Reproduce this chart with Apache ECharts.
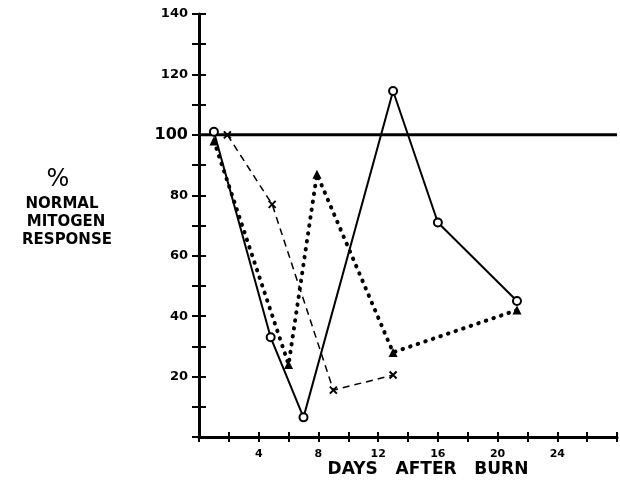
<!DOCTYPE html>
<html><head><meta charset="utf-8">
<script src="https://cdn.jsdelivr.net/npm/echarts@6/dist/echarts.min.js"></script>
<style>html,body{margin:0;padding:0;background:#fff}#c{width:620px;height:484px}</style>
</head><body><div id="c"></div>
<script>
// Days after burn / % normal mitogen response
const circleData = [[1, 101], [4.8, 33], [7, 6.5], [13, 114.5], [16, 71], [21.3, 45]];
const triangleData = [[1, 98], [6, 24], [7.9, 87], [13, 28], [21.3, 42]];
const crossData = [[1.9, 100], [4.9, 77], [9, 15.5], [13, 20.5]];
const normalLevel = 100;
const xTickLabels = [4, 8, 12, 16, 20, 24];
const yTickLabels = [20, 40, 60, 80, 100, 120, 140];

const chart = echarts.init(document.getElementById('c'));
const font = '"DejaVu Sans", "Liberation Sans", Arial, sans-serif';
const axisBase = {
  type: 'value', min: 0, splitLine: {show: false},
  axisLine: {show: true, lineStyle: {color: '#000', width: 3}}
};
chart.setOption({
  animation: false,
  grid: {left: 199, right: 0, top: 14, bottom: 47, containLabel: false},
  xAxis: [
    Object.assign({}, axisBase, {
      max: 28, interval: 2, position: 'bottom', offset: 0,
      axisTick: {show: true, length: 5, inside: false, lineStyle: {color: '#000', width: 2}},
      axisLabel: {
        color: '#000', fontFamily: font, fontWeight: 'bold', fontSize: 11, margin: 12,
        formatter: v => xTickLabels.includes(v) ? String(v) : ''
      }
    }),
    Object.assign({}, axisBase, {
      max: 28, interval: 2, position: 'bottom', offset: 0,
      axisLine: {show: false},
      axisTick: {show: true, length: 5, inside: true, lineStyle: {color: '#000', width: 2}},
      axisLabel: {show: false}
    })
  ],
  yAxis: [
    Object.assign({}, axisBase, {
      max: 140, interval: 10, position: 'left', offset: 0,
      axisTick: {show: true, length: 7, inside: false, lineStyle: {color: '#000', width: 2}},
      axisLabel: {
        color: '#000', fontFamily: font, fontWeight: 'bold', fontSize: 13, margin: 11,
        formatter: v => yTickLabels.includes(v) ? (v === 100 ? '{big|100}' : String(v)) : '',
        rich: {big: {fontSize: 16, fontWeight: 'bold', fontFamily: font, color: '#000'}}
      }
    }),
    Object.assign({}, axisBase, {
      max: 140, interval: 10, position: 'left', offset: 0,
      axisLine: {show: false},
      axisTick: {show: true, length: 7, inside: true, lineStyle: {color: '#000', width: 2}},
      axisLabel: {show: false}
    })
  ],
  graphic: [
    {type: 'text', x: 58, y: 180, style: {text: '%', font: '24px ' + font, fill: '#000', align: 'center', verticalAlign: 'middle'}},
    {type: 'text', x: 62, y: 204, style: {text: 'NORMAL', font: 'bold 15px ' + font, fill: '#000', align: 'center', verticalAlign: 'middle'}},
    {type: 'text', x: 66, y: 222, style: {text: 'MITOGEN', font: 'bold 15px ' + font, fill: '#000', align: 'center', verticalAlign: 'middle'}},
    {type: 'text', x: 67, y: 240, style: {text: 'RESPONSE', font: 'bold 15px ' + font, fill: '#000', align: 'center', verticalAlign: 'middle'}},
    {type: 'text', x: 428, y: 470, style: {text: 'DAYS   AFTER   BURN', font: 'bold 17px ' + font, fill: '#000', align: 'center', verticalAlign: 'middle'}}
  ],
  series: [
    {
      type: 'line', data: [[0, normalLevel], [28, normalLevel]], symbol: 'none', silent: true,
      lineStyle: {color: '#000', width: 3}, z: 1
    },
    {
      type: 'line', data: circleData, symbol: 'circle', symbolSize: 8,
      itemStyle: {color: '#fff', borderColor: '#000', borderWidth: 2},
      lineStyle: {color: '#000', width: 2}, z: 3
    },
    {
      type: 'line', data: triangleData, symbol: 'triangle', symbolSize: 9,
      itemStyle: {color: '#000'},
      lineStyle: {color: '#000', width: 4, type: [0.5, 7.5], cap: 'round'}, z: 2
    },
    {
      type: 'line', data: crossData, symbol: 'path://M0,0L10,10M10,0L0,10', symbolSize: 7,
      itemStyle: {color: 'none', borderColor: '#000', borderWidth: 2},
      lineStyle: {color: '#000', width: 1.5, type: [7, 5]}, z: 2
    }
  ]
});
</script></body></html>
